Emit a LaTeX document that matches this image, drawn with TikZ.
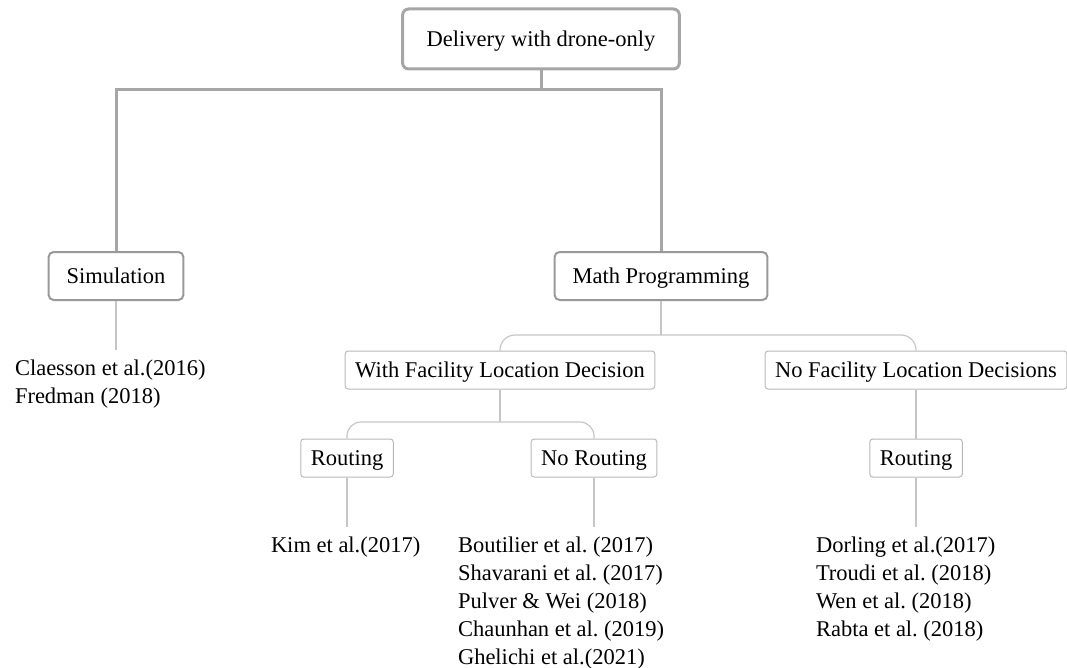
\documentclass[tikz,border=0pt]{standalone}
\usepackage{fontspec}
\setmainfont{Liberation Serif}
\frenchspacing

\begin{document}
\begin{tikzpicture}[x=1pt,y=-1pt,
        font=\fontsize{22.5}{28}\selectfont,
        rootbox/.style={draw=gray!70,line width=3pt,rounded corners=6pt,minimum height=60pt,inner xsep=24pt,text depth=0pt},
        midbox/.style={draw=gray!80,line width=2pt,rounded corners=5pt,minimum height=48pt,inner xsep=18pt,text depth=0pt},
        leafbox/.style={draw=gray!55,line width=1pt,rounded corners=3pt,minimum height=38pt,inner xsep=10pt,text depth=0pt},
        reflist/.style={align=left,inner sep=0pt,outer xsep=0pt,outer ysep=10pt,anchor=north west},
        thicklink/.style={gray!70,line width=3pt},
        thinlink/.style={gray!45,line width=1.2pt}]
        \useasboundingbox (0,0) rectangle (1067,668);

        \coordinate (split1) at (541,90);
        \coordinate (split2) at (661,335);
        \coordinate (split3) at (500,422);

        \node[rootbox] (root) at (541,39)  {Delivery with drone-only};
        \node[midbox]  (sim)  at (116,276) {Simulation};
        \node[midbox]  (math) at (661,276) {Math Programming};
        \node[leafbox] (wfl)  at (500,370) {With Facility Location Decision};
        \node[leafbox] (nfl)  at (916,370) {No Facility Location Decisions};
        \node[leafbox] (rt)   at (347,458) {Routing};
        \node[leafbox] (nrt)  at (594,458) {No Routing};
        \node[leafbox] (rtb)  at (916,458) {Routing};

        \node[reflist] (simrefs) at (15,350)  {Claesson et al.(2016)\\Fredman (2018)};
        \node[reflist] (rtrefs)  at (271,527) {Kim et al.(2017)};
        \node[reflist] (nrtrefs) at (458,527) {Boutilier et al. (2017)\\Shavarani et al. (2017)\\Pulver \& Wei (2018)\\Chaunhan et al. (2019)\\Ghelichi et al.(2021)};
        \node[reflist] (rtbrefs) at (816,527) {Dorling et al.(2017)\\Troudi et al. (2018)\\Wen et al. (2018)\\Rabta et al. (2018)};

        % top level
        \draw[thicklink] (root.south) -- (split1) -| (sim.north);
        \draw[thicklink] (split1) -| (math.north);

        % math programming
        \draw[thinlink] (math.south) -- (split2);
        \draw[thinlink,rounded corners=15pt] (split2) -| (wfl.north);
        \draw[thinlink,rounded corners=15pt] (split2) -| (nfl.north);
        \draw[thinlink] (wfl.south) -- (split3);
        \draw[thinlink,rounded corners=14pt] (split3) -| (rt.north);
        \draw[thinlink,rounded corners=14pt] (split3) -| (nrt.north);
        \draw[thinlink] (nfl.south) -- (rtb.north);

        % references
        \draw[thinlink] (sim.south) -- (sim.south |- simrefs.north);
        \draw[thinlink] (rt.south) -- (rt.south |- rtrefs.north);
        \draw[thinlink] (nrt.south) -- (nrt.south |- nrtrefs.north);
        \draw[thinlink] (rtb.south) -- (rtb.south |- rtbrefs.north);
    \end{tikzpicture}
\end{document}
